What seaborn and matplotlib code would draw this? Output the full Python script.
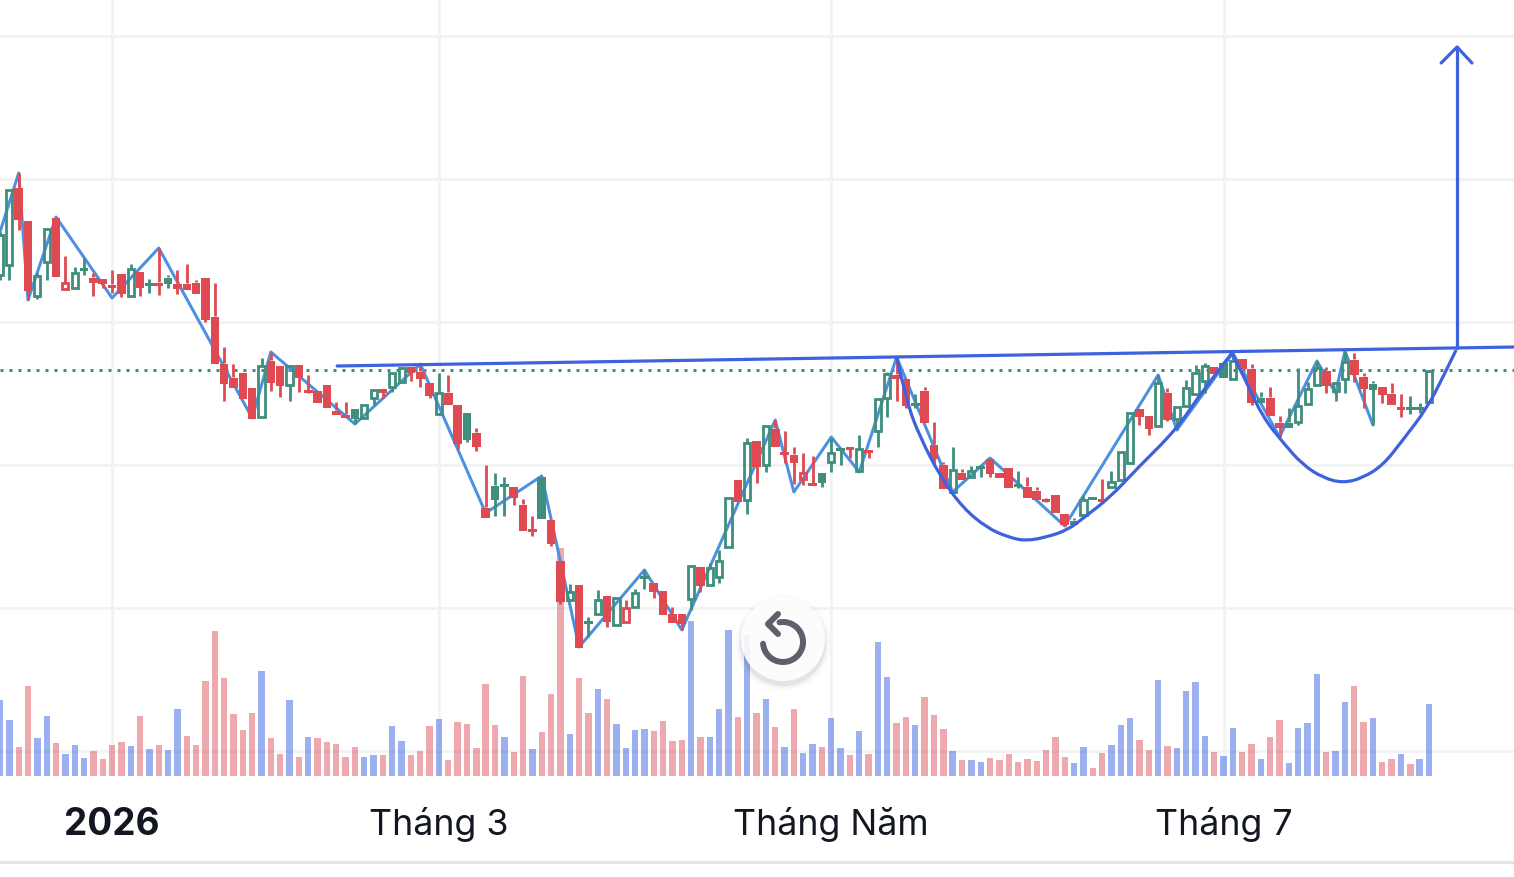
import numpy as np
import pandas as pd
import seaborn as sns
import matplotlib.pyplot as plt
from matplotlib.patches import Circle, Arc, Rectangle, PathPatch
from matplotlib.path import Path

# price scale is not visible in the picture, so prices are in plain chart points
opens = [602,612,690,657,581,615,660,588,589,608,
         600,599,593,604,581,606,594,595,600,594,
         594,595,600,561,514,500,505,490,460,517,
         512,492,513,486,487,493,467,463,469,459,
         479,489,490,495,511,506,495,463,485,473,
         465,445,370,392,392,391,373,347,401,358,
         317,277,293,255,263,282,252,255,270,300,
         295,287,264,264,278,311,292,300,330,398,
         377,437,412,449,424,423,398,393,405,415,
         428,429,406,428,446,479,503,499,473,487,
         433,413,385,405,400,410,419,405,410,392,
         391,387,377,383,364,357,362,380,377,390,
         397,414,469,462,451,485,458,471,483,496,
         511,515,498,519,509,480,480,455,455,455,
         473,492,507,486,498,518,501,494,491,484,
         469,469,469,475]
closes = [642,687,658,587,601,648,601,594,604,607,
          595,594,590,584,608,590,592,592,594,589,
          588,584,558,514,494,490,479,459,511,495,
          492,511,500,485,475,470,463,460,459,472,
          487,485,504,509,505,499,482,484,473,434,
          438,431,360,378,391,380,347,346,359,334,
          276,285,230,254,277,256,279,269,284,299,
          286,263,255,254,311,292,309,316,379,376,
          434,411,451,431,423,415,404,392,395,424,
          427,428,428,425,478,503,499,472,472,455,
          419,389,407,398,406,409,404,400,390,391,
          380,378,376,365,353,353,377,378,376,395,
          425,464,461,449,494,458,470,489,504,511,
          504,500,516,509,475,475,462,450,450,471,
          488,509,492,494,515,503,489,488,483,473,
          468,468,468,506]
highs = [645,687,704,657,604,648,660,621,610,619,
         604,599,607,604,613,606,598,629,602,607,
         613,597,600,594,530,513,505,490,519,524,
         512,511,513,502,487,493,475,475,469,472,
         487,489,504,509,511,512,495,504,502,473,
         465,449,412,404,400,391,378,361,401,358,
         317,293,293,260,287,282,279,277,288,307,
         295,287,270,264,311,311,314,327,379,398,
         439,437,451,457,446,430,424,421,405,439,
         428,429,442,428,478,505,520,499,483,490,
         455,415,430,408,411,412,419,405,410,406,
         400,390,379,383,364,359,381,380,398,406,
         425,464,469,462,502,489,470,497,512,514,
         511,515,524,519,513,485,490,461,469,509,
         495,516,510,494,526,524,504,496,491,494,
         483,481,474,506]
lows = [597,597,647,577,578,597,601,588,589,602,
        581,589,584,580,581,581,584,582,589,583,
        588,584,555,514,476,490,479,459,460,486,
        480,476,485,484,475,470,463,460,453,459,
        472,479,485,495,496,490,479,463,473,428,
        435,426,360,361,361,372,347,341,359,331,
        273,277,230,240,263,250,252,255,270,288,
        279,263,255,247,267,285,292,294,330,376,
        363,394,405,431,414,393,392,392,390,405,
        412,419,406,419,430,460,476,469,469,455,
        413,389,385,398,400,400,400,400,390,389,
        380,378,375,365,351,353,362,378,376,390,
        397,414,452,442,451,456,447,471,483,484,
        504,500,498,509,472,475,462,440,450,452,
        473,492,484,476,484,495,469,452,474,473,
        460,463,464,475]
candle_colors = ("ggrrggrrgg" "rrrrgrgrgr" "rrrrrrrrgr" "rgrrrrrrgg" "grggrrrgrr"
                 "grrggrrrgr" "rgrggrgrgg" "rrrrgrgggr" "grgrrrrrgg" "grgrggrrgr"
                 "rrgrggrrrg" "rrrrrgggrg" "ggrrgrgggg" "rggrrgrrgg" "ggrggrrgrr" "rggg")

volumes = [76,56,29,90,38,60,33,22,31,18,
           25,17,31,34,30,60,27,31,26,67,
           40,31,95,145,98,62,46,63,105,38,
           22,76,19,39,38,34,32,19,29,19,
           21,21,50,35,21,25,50,57,16,54,
           52,28,92,51,39,24,100,27,44,82,
           228,42,98,63,87,77,52,28,46,47,
           45,55,35,36,155,39,39,67,146,59,
           141,63,77,49,29,67,23,32,29,58,
           28,21,45,22,134,99,53,59,51,79,
           61,47,25,16,16,14,18,16,22,14,
           17,15,26,39,19,13,29,8,23,31,
           51,58,36,26,96,30,28,85,94,40,
           24,20,48,24,32,17,39,56,13,48,
           53,102,24,25,74,90,54,58,14,17,
           22,12,17,72]
volume_dirs = ("bbrrbbrbbb" "rrrrbrbrbb" "rrrrrrrrbr" "rbrbrrrrrb" "brbbrrrbrr"
               "rrrrbrrbrr" "rbrrbrbbbb" "rrrrbrbbbr" "brbrbrbbrb" "brbrbbrrbr"
               "rrbrbbrrrr" "rrrrrbbrrb" "bbrrbrbbbb" "rbbrrbrrbb" "bbrbbrrbrr"
               "brbb")

# zigzag pivots, bar number and price
zig_bars = [0, 2, 3, 6, 12, 17, 27, 29, 38, 45, 52, 58, 62, 69, 73, 83, 85, 89, 92, 96,
            102, 106, 114, 124, 126, 132, 137, 141, 143, 144, 147]
zig_prices = [645, 704, 577, 660, 579, 629, 459, 525, 453, 513, 364, 401, 230, 307, 247, 457,
              385, 440, 405, 520, 385, 419, 351, 502, 447, 524, 440, 516, 484, 526, 452]

# hand drawn pattern lines
cup1_bars = [96.0, 97.1, 98.5, 100.7, 103.1, 105.7, 107.9, 109.8, 112.1, 114.3, 116.0, 118.9, 121.8, 126.0, 128.8, 131.9]
cup1_prices = [520, 474, 440, 400, 369, 349, 340, 336, 340, 347, 359, 380, 409, 448, 487, 524]
cup2_bars = [131.9, 133.5, 135.2, 137.4, 139.5, 141.7, 143.8, 145.9, 148.1, 150.2, 152.8, 154.5, 155.9]
cup2_prices = [524, 494, 460, 434, 412, 399, 394, 399, 412, 437, 469, 500, 527]
neck_bars = [36.1, 162.1]
neck_prices = [511, 530]
arrow_bars = [156.0, 156.0]
arrow_prices = [529, 830]
head_bars = [154.3, 156.0, 157.6]
head_prices = [814, 830, 814]

last_price = 507
grid_prices = [841, 698, 555, 412, 269, 126]
tick_bars = [12, 47, 89, 131]
tick_labels = ["2026", "Tháng 3", "Tháng Năm", "Tháng 7"]

GREEN = "#408e7d"
RED = "#df4a52"
ZIG = "#4c90e0"
BLUE = "#3e62dd"
GRID = "#f2f3f5"
PX = 0.72  # one pixel in points at dpi 100
X_MAX = 162.1


# curve through the midpoints of the read points, the brush lines in the picture are smooth
def smooth_curve(ax, xs, ys):
    verts = [(xs[0], ys[0])]
    codes = [Path.MOVETO]
    for k in range(1, len(xs) - 1):
        end = (xs[k + 1], ys[k + 1]) if k == len(xs) - 2 else ((xs[k] + xs[k + 1]) / 2, (ys[k] + ys[k + 1]) / 2)
        verts += [(xs[k], ys[k]), end]
        codes += [Path.CURVE3, Path.CURVE3]
    ax.add_patch(PathPatch(Path(verts, codes), facecolor="none", edgecolor=BLUE, lw=3.2 * PX, zorder=4))


sns.set_theme(style="white")
plt.rcParams["font.family"] = ["Inter", "DejaVu Sans"]

fig = plt.figure(figsize=(15.14, 8.77), dpi=100, facecolor="white")
rect = [0, 101 / 877, 1, 776 / 877]

# grid and date labels at the back
ax_back = fig.add_axes(rect, zorder=0)
ax_back.set_xlim(0, X_MAX)
ax_back.set_ylim(101, 877)
ax_back.set_yticks(grid_prices)
ax_back.set_yticklabels([])
ax_back.set_xticks(tick_bars)
ax_back.set_xticklabels(tick_labels, fontsize=25.7, color="#131722")
ax_back.get_xticklabels()[0].set_fontweight("bold")
ax_back.get_xticklabels()[0].set_fontsize(26.6)
ax_back.tick_params(axis="both", length=0, pad=22)
ax_back.grid(True, color=GRID, lw=3 * PX)
sns.despine(ax=ax_back, left=True, bottom=True)

# volume
ax_vol = fig.add_axes(rect, zorder=1)
ax_vol.patch.set_alpha(0)
vol_df = pd.DataFrame({"bar": np.arange(len(volumes)), "volume": volumes, "dir": list(volume_dirs)})
sns.barplot(data=vol_df, x="bar", y="volume", hue="dir", palette={"b": "#3a62e0", "r": "#de5560"},
            native_scale=True, dodge=False, width=0.68, saturation=1, alpha=0.5,
            legend=False, linewidth=0, ax=ax_vol)
ax_vol.set_xlim(0, X_MAX)
ax_vol.set_ylim(0, 776)
ax_vol.axis("off")

# candles, zigzag and pattern
ax = fig.add_axes(rect, zorder=2)
ax.patch.set_alpha(0)
ax.set_xlim(0, X_MAX)
ax.set_ylim(101, 877)
ax.axis("off")

ax.axhline(last_price, color="#3f8f7a", lw=3 * PX, ls=(0, (1, 2)), zorder=1)
sns.lineplot(x=zig_bars, y=zig_prices, color=ZIG, lw=3 * PX, sort=False, estimator=None, ax=ax, zorder=2)

for i in range(len(opens)):
    c = GREEN if candle_colors[i] == "g" else RED
    o, h, l, cl = opens[i], highs[i], lows[i], closes[i]
    top, bot = max(o, cl), min(o, cl)
    ax.vlines(i, top, h, color=c, lw=2.8 * PX, zorder=3)
    ax.vlines(i, l, bot, color=c, lw=2.8 * PX, zorder=3)
    if cl > o:  # hollow
        ax.bar(i, top - bot, bottom=bot, width=0.66, facecolor="none", edgecolor=c, lw=2.8 * PX, zorder=3)
    else:
        ax.bar(i, max(top - bot, 3), bottom=bot - 0.5, width=0.92, color=c, lw=0, zorder=3)

smooth_curve(ax, cup1_bars, cup1_prices)
smooth_curve(ax, cup2_bars, cup2_prices)
for xs, ys in [(neck_bars, neck_prices), (arrow_bars, arrow_prices), (head_bars, head_prices)]:
    sns.lineplot(x=xs, y=ys, color=BLUE, lw=3.2 * PX, sort=False, estimator=None, ax=ax, zorder=4)
ax.set_xlim(0, X_MAX)
ax.set_ylim(101, 877)

# replay button, drawn in picture pixels
ui = fig.add_axes([0, 0, 1, 1], zorder=3)
ui.set_xlim(0, 1514)
ui.set_ylim(0, 877)
ui.axis("off")
for r, a in [(48, 0.015), (46, 0.02), (44, 0.03), (43, 0.04)]:
    ui.add_patch(Circle((783, 234), r, color="black", alpha=a, lw=0))
ui.add_patch(Circle((783, 238), 42, color="white", alpha=0.9, lw=0))
ui.add_patch(Arc((783, 235), 40, 40, theta1=-175, theta2=100, color="#5d606b", lw=6 * PX, capstyle="round"))
ui.plot([778, 768, 778], [263, 253, 243], color="#5d606b", lw=6 * PX, solid_capstyle="round", solid_joinstyle="round")

# bottom rule
fig.add_artist(Rectangle((0, 13 / 877), 1, 3 / 877, transform=fig.transFigure, color="#e0e3eb", lw=0))

plt.savefig("out.png", dpi=100)
plt.close()
